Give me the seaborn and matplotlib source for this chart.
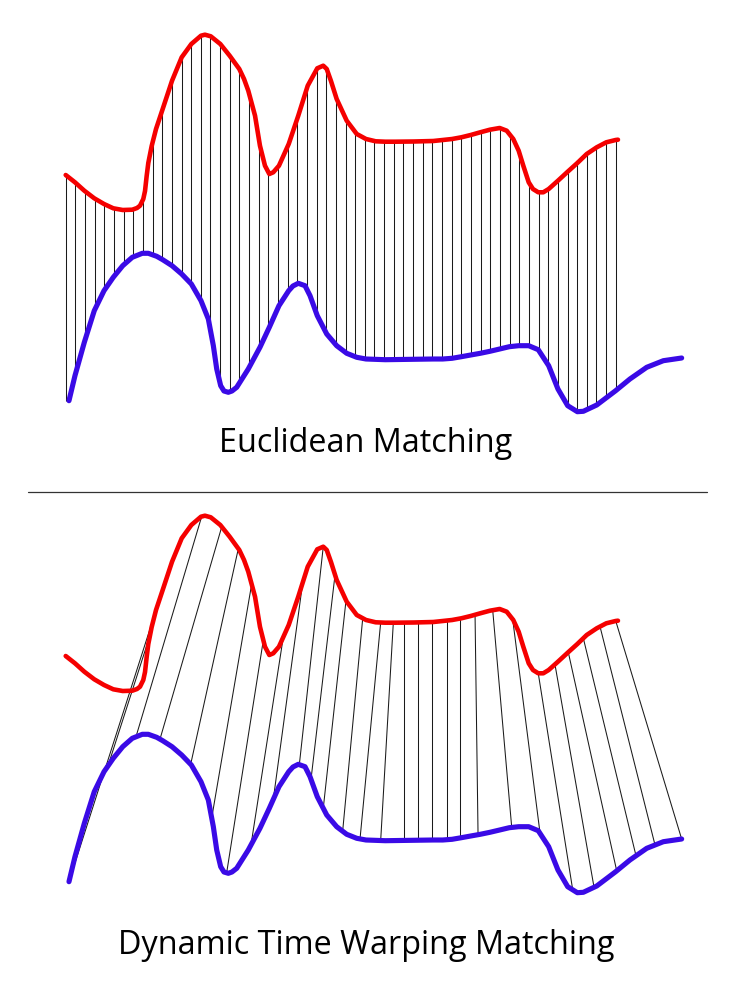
import numpy as np
import pandas as pd
import seaborn as sns
import matplotlib.pyplot as plt
from matplotlib.collections import LineCollection
from matplotlib.lines import Line2D

# red series: sample position (steps) and value
red_step = [0, 0.96, 1.93, 2.96, 3.97, 4.93, 5.91, 6.90, 7.39, 7.70, 8.04, 8.22,
            8.39, 8.56, 8.91, 9.36, 10.05, 11.02, 12.02, 13.02, 14.02, 14.43,
            15.03, 16.02, 16.99, 17.99, 18.48, 18.92, 19.62, 20.13, 20.65, 21.10,
            21.51, 22.10, 23.11, 24.10, 25.08, 26.07, 26.69, 27.05, 27.49, 28.08,
            29.12, 30.16, 31.12, 32.12, 33.12, 34.12, 36.08, 38.09, 39.07, 40.04,
            41.00, 41.97, 42.96, 43.96, 44.97, 45.70, 46.38, 46.94, 47.42, 47.98,
            48.42, 48.97, 49.49, 50.05, 51.01, 52.02, 53.02, 53.99, 55.03, 56.02,
            56.99, 57.23]
red_value = [264, 256.7, 248.3, 240.7, 235, 230.7, 229, 229.3, 231, 233.3, 240,
             248, 263, 276, 293, 310, 330, 358.3, 381.7, 395, 403.3, 404.3,
             402.7, 395, 383.3, 370, 360, 348.3, 323.3, 293.3, 273.3, 265, 266.7,
             273.3, 295, 323.3, 353.3, 370.7, 373.3, 370, 358, 340, 318.3, 305,
             300, 297.7, 297.3, 297.3, 297.5, 298, 299, 300, 301.7, 304, 306.7,
             309.3, 311, 308.3, 300, 288.3, 273.3, 256.7, 250, 246.7, 246.7, 250,
             258.3, 267.3, 276, 285, 291.7, 296.7, 299, 299.3]

# blue series: sample position (steps) and value
blue_step = [0.34, 0.96, 1.93, 2.96, 3.97, 4.93, 5.91, 6.90, 7.94, 8.56, 9.43,
             10.05, 11.02, 12.02, 13.02, 14.02, 14.78, 15.30, 15.65, 16.06, 16.40,
             16.85, 17.23, 17.72, 18.92, 20.13, 21.10, 22.10, 23.11, 23.55, 24.10,
             24.80, 25.32, 26.07, 27.05, 28.08, 29.12, 30.16, 31.12, 33.12, 38.09,
             39.07, 40.04, 41.00, 41.97, 42.96, 43.96, 44.97, 45.97, 46.94, 47.98,
             48.97, 50.05, 51.01, 52.02, 53.02, 53.64, 55.03, 56.99, 58.47, 60.21,
             61.93, 63.83]
blue_value = [38.3, 63.3, 96.7, 128.3, 148.3, 161.7, 173.3, 181.7, 185.7, 185.7,
              182.7, 179.3, 173.3, 165, 155, 138.3, 120, 93.3, 70, 53.3, 48, 46.7,
              48, 51.7, 70, 91.7, 111.7, 133.3, 148.3, 153, 155.7, 153.3, 143.3,
              123.3, 105, 93.3, 85.7, 81.7, 80, 79.3, 80, 80, 80.7, 82.3, 84, 85.7,
              87.7, 90, 92.3, 93.3, 93.3, 89.3, 73.3, 50, 33.3, 27.3, 27.7, 34,
              48.3, 60, 71.7, 78.3, 81]

# euclidean matching: every step of the red series
euclid_step = list(range(58))

# warping matches: position on red -> position on blue (in steps)
dtw_red = [9.46, 8.74, 14.09, 16.17, 17.89, 19.27, 20.48, 22.55, 24.56, 26.69,
           27.91, 29.05, 30.78, 32.64, 33.95, 35.06, 36.48, 37.99, 39.48, 40.86,
           42.42, 44.25, 46.32, 48.97, 50.70, 52.08, 53.64, 55.37, 57.0]
dtw_blue = [0.34, 4.38, 7.28, 9.77, 12.95, 15.13, 16.68, 19.20, 21.51, 24.21,
            25.42, 26.69, 28.70, 30.50, 32.64, 35.06, 36.48, 37.99, 39.48, 40.86,
            42.73, 46.22, 49.16, 52.54, 54.75, 57.10, 59.10, 61.07, 63.83]

titles = ["Euclidean Matching", "Dynamic Time Warping Matching"]

RED = "#f50000"
BLUE = "#3a0ae6"

df_red = pd.DataFrame({"step": red_step, "value": red_value})
df_blue = pd.DataFrame({"step": blue_step, "value": blue_value})

sns.set_theme(style="white")
plt.rcParams["font.family"] = ["Open Sans", "DejaVu Sans"]

W, H = 736, 995
fig = plt.figure(figsize=(W / 100, H / 100), dpi=100)


def panel_box(top_px):
    left, right = 17.45, 731.55
    return [left / W, 1 - (top_px + 400) / H, (right - left) / W, 400 / H]


def on_red(s):
    return np.interp(s, df_red["step"], df_red["value"])


def on_blue(s):
    return np.interp(s, df_blue["step"], df_blue["value"])


def draw_curves(ax):
    sns.lineplot(data=df_red, x="step", y="value", ax=ax, color=RED,
                 linewidth=3.3, estimator=None, sort=False,
                 solid_capstyle="round", solid_joinstyle="round", zorder=3)
    sns.lineplot(data=df_blue, x="step", y="value", ax=ax, color=BLUE,
                 linewidth=3.7, estimator=None, sort=False,
                 solid_capstyle="round", solid_joinstyle="round", zorder=3)
    ax.set_xlim(-5, 69)
    ax.set_ylim(20, 420)
    ax.set_axis_off()


# top: euclidean, same step on both series
ax1 = fig.add_axes(panel_box(20))
ax1.vlines(euclid_step, on_blue(euclid_step), on_red(euclid_step),
           color="#1a1a1a", linewidth=0.75, zorder=2)
draw_curves(ax1)

# bottom: dynamic time warping
ax2 = fig.add_axes(panel_box(501))
segs = [[(r, on_red(r)), (b, on_blue(b))] for r, b in zip(dtw_red, dtw_blue)]
ax2.add_collection(LineCollection(segs, colors="#1a1a1a", linewidths=0.75, zorder=2))
draw_curves(ax2)

fig.text(366 / W, 1 - 444 / H, titles[0], ha="center", va="center",
         fontsize=23.3, color="black")
fig.text(366 / W, 1 - 946 / H, titles[1], ha="center", va="center",
         fontsize=23.3, color="black")

fig.add_artist(Line2D([28 / W, 707 / W], [1 - 493 / H, 1 - 493 / H],
                      color="#333333", linewidth=0.9))

fig.savefig("out.png", dpi=100, facecolor="white")
